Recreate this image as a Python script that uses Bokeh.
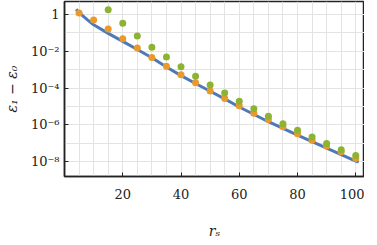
from bokeh.plotting import figure
from bokeh.models import FixedTicker, Range1d
from bokeh.embed import file_html
from bokeh.resources import INLINE

# exact gap (line)
rs_line = [4, 5, 6, 7, 8, 10, 15, 20, 25, 30, 35, 40, 45, 50, 55, 60, 70, 80, 90, 100, 101]
gap_line = [1.95, 1.3, 0.93, 0.68, 0.50, 0.28, 0.095, 0.035, 0.0126, 4.5e-3, 1.4e-3,
            4.8e-4, 1.8e-4, 6.8e-5, 2.6e-5, 9.5e-6, 1.5e-6, 2.8e-7, 5.6e-8, 1.1e-8, 9.5e-9]

# orange series
rs_orange = [5, 10, 15, 20, 25, 30, 35, 40, 45, 50, 55, 60, 65, 70, 75, 80, 85, 90, 95, 100]
gap_orange = [1.22, 0.51, 0.166, 0.049, 0.0151, 4.7e-3, 1.55e-3, 5.4e-4, 1.95e-4, 7.1e-5,
              2.75e-5, 1.1e-5, 4.4e-6, 2.0e-6, 7.9e-7, 3.3e-7, 1.5e-7, 7.2e-8, 3.5e-8, 1.5e-8]

# green series
rs_green = [15, 20, 25, 30, 35, 40, 45, 50, 55, 60, 65, 70, 75, 80, 85, 90, 95, 100]
gap_green = [1.8, 0.34, 0.069, 0.017, 4.9e-3, 1.45e-3, 4.5e-4, 1.48e-4, 5.4e-5, 1.95e-5,
             7.6e-6, 2.95e-6, 1.17e-6, 5.1e-7, 2.2e-7, 9.8e-8, 4.5e-8, 2.2e-8]

x_ticks = [20, 40, 60, 80, 100]
y_ticks = [1, 1e-2, 1e-4, 1e-6, 1e-8]
y_tick_labels = ["1", "10⁻²", "10⁻⁴", "10⁻⁶", "10⁻⁸"]
x_grid = [5 * k for k in range(0, 21)]
y_grid = [10.0 ** (-k) for k in range(0, 9)]

FONT = "DejaVu Serif"

p = figure(frame_width=300, frame_height=175, y_axis_type="log",
           x_range=Range1d(0, 103), y_range=Range1d(10 ** -8.8, 10 ** 0.71),
           output_backend="svg", toolbar_location=None,
           min_border_left=60, min_border_right=0, min_border_top=1, min_border_bottom=50)

p.line(rs_line, gap_line, line_color="#4e79b7", line_width=3)
p.scatter(rs_orange, gap_orange, size=7, fill_color="#e99a2c", line_color=None)
p.scatter(rs_green, gap_green, size=7, fill_color="#8db332", line_color=None)

p.outline_line_color = "#222222"
p.outline_line_width = 1.5

p.xaxis.ticker = FixedTicker(ticks=x_ticks)
p.yaxis.ticker = FixedTicker(ticks=y_ticks)
p.yaxis.major_label_overrides = {t: l for t, l in zip(y_ticks, y_tick_labels)}
p.xgrid.ticker = FixedTicker(ticks=x_grid)
p.ygrid.ticker = FixedTicker(ticks=y_grid)
p.grid.grid_line_color = "#e3e3e3"
p.grid.grid_line_width = 1

for ax in (p.xaxis[0], p.yaxis[0]):
    ax.axis_line_color = "#222222"
    ax.axis_line_width = 1.5
    ax.major_tick_in = 4
    ax.major_tick_out = 0
    ax.major_tick_line_color = "#222222"
    ax.minor_tick_line_color = None
    ax.major_label_text_font = FONT
    ax.major_label_text_font_size = "13px"
    ax.major_label_text_color = "#222222"
    ax.axis_label_text_font = FONT
    ax.axis_label_text_font_size = "14px"
    ax.axis_label_text_font_style = "italic"
    ax.axis_label_text_color = "#222222"

p.xaxis.axis_label = "rₛ"
p.yaxis.axis_label = "ε₁ − ε₀"
p.xaxis.major_label_standoff = 12
p.xaxis.axis_label_standoff = 21
p.yaxis.major_label_standoff = 5
p.yaxis.axis_label_standoff = 8

open("out.html", "w").write(file_html(p, INLINE))
